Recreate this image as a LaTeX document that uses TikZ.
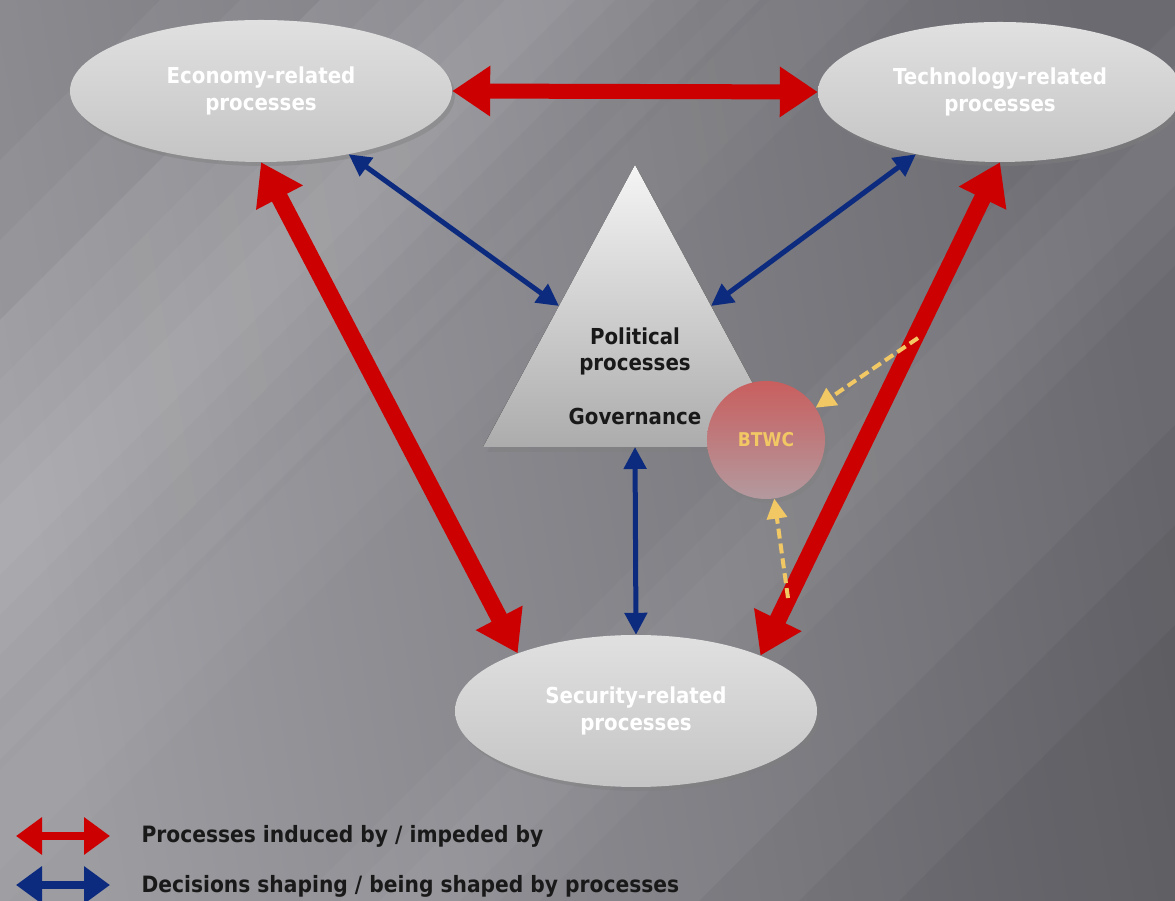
\documentclass[tikz,border=0pt]{standalone}
\usepackage{fontspec}
\setmainfont{DejaVu Sans}
\newfontfamily\nodefont[FakeStretch=0.9]{DejaVu Sans}
\usetikzlibrary{arrows.meta,shadows,calc,shapes.geometric}
\definecolor{redA}{HTML}{CC0000}
\definecolor{blueA}{HTML}{0C2A7E}
\definecolor{yelA}{HTML}{F2C865}
\definecolor{bgL}{HTML}{9C9CA1}
\definecolor{bgR}{HTML}{6A6A70}
\definecolor{circT}{HTML}{C95E5E}
\definecolor{circB}{HTML}{B39A9F}
\newcommand\mydiagband[4]{% center c (y-down), half width, colour, opacity
  \fill[#3, opacity=#4] (-1000,{-1000+901-#1-#2}) -- (2300,{2300+901-#1-#2}) -- (2300,{2300+901-#1+#2}) -- (-1000,{-1000+901-#1+#2}) -- cycle;}
\tikzset{
  proc/.style={ellipse, inner sep=0pt, top color=gray!24!white, bottom color=gray!46!white,
    drop shadow={shadow xshift=3pt, shadow yshift=-4pt, opacity=0.45},
    text=white, align=center, font=\nodefont\bfseries\fontsize{22}{27}\selectfont},
  tritext/.style={text=black!90, align=center, font=\nodefont\bfseries\fontsize{22}{26}\selectfont},
  redarrow/.style={draw=redA, line width=17pt, {Triangle[width=50pt,length=40pt]}-{Triangle[width=50pt,length=40pt]}},
  bluearrow/.style={draw=blueA, line width=5pt, {Triangle[width=22pt,length=22pt]}-{Triangle[width=22pt,length=22pt]}},
  yelarrow/.style={draw=yelA, line width=4pt, dash pattern=on 10pt off 5pt, -{Triangle[width=20pt,length=20pt]}},
  legarrow/.style={line width=8pt, {Triangle[width=36pt,length=26pt]}-{Triangle[width=36pt,length=26pt]}},
  legtext/.style={anchor=west, text=black!90, font=\nodefont\bfseries\fontsize{22.5}{27}\selectfont},
}
\begin{document}
\begin{tikzpicture}[x=1pt,y=1pt]
\useasboundingbox (0,0) rectangle (1175,901);
% background
\begin{scope}
\clip (0,0) rectangle (1175,901);
\shade[left color=bgL, right color=bgR, shading angle=100] (0,0) rectangle (1175,901);
\foreach \w in {220,160,115,75,35} {\mydiagband{540}{\w}{white}{0.04}}
\foreach \w in {120,80,40} {\mydiagband{1320}{\w}{white}{0.03}}
\foreach \w in {90,50} {\mydiagband{820}{\w}{white}{0.025}}
\foreach \w in {260,180,100} {\mydiagband{60}{\w}{black}{0.03}}
\foreach \w in {400,300,200} {\mydiagband{2000}{\w}{black}{0.04}}
\end{scope}

% nodes
\node[proc, minimum width=382pt, minimum height=142pt] (econ) at (261,810) {Economy-related\\processes};
\node[proc, minimum width=364pt, minimum height=140pt] (tech) at (1000,809) {Technology-related\\processes};
\node[proc, minimum width=362pt, minimum height=152pt] (sec) at (636,190) {Security-related\\processes};

\coordinate (tA) at (635,736);
\coordinate (tL) at (483,454);
\coordinate (tR) at (787,454);
\fill[top color=gray!8!white, bottom color=gray!65!white,
  drop shadow={shadow xshift=4pt, shadow yshift=-5pt, opacity=0.45}] (tA) -- (tL) -- (tR) -- cycle;
\node[tritext] (pol) at (635,550) {Political\\processes};
\node[tritext] (gov) at (635,484) {Governance};

\node[circle, minimum size=118pt, inner sep=0pt, top color=circT, bottom color=circB,
  drop shadow={shadow xshift=3pt, shadow yshift=-4pt, opacity=0.45},
  text=yelA, font=\nodefont\bfseries\fontsize{19}{22}\selectfont] (btwc) at (766,461) {BTWC};

% red arrows
\draw[redarrow, line width=15pt, {Triangle[width=48pt,length=38pt]}-{Triangle[width=48pt,length=38pt]}] (econ.east) -- (tech.west);
\draw[redarrow] (econ.south) -- (sec.154.6);
\draw[redarrow] (tech.south) -- (sec.24);

% blue arrows
\coordinate (tLm) at ($(tA)!0.5!(tL)$);
\coordinate (tRm) at ($(tA)!0.5!(tR)$);
\coordinate (tB) at ($(tL)!0.5!(tR)$);
\draw[bluearrow] (econ) -- (tLm);
\draw[bluearrow] (tech) -- (tRm);
\draw[bluearrow] (tB) -- (sec.north);

% yellow dashed
\coordinate (y1) at (918,563);
\coordinate (y2) at (788,303);
\draw[yelarrow] (y1) -- (btwc.33.9);
\draw[yelarrow] (y2) -- (btwc.-82);

% legend
\coordinate (lr1) at (16,65);
\coordinate (lr2) at (110,65);
\coordinate (lb1) at (16,16);
\coordinate (lb2) at (110,16);
\draw[legarrow, draw=redA] (lr1) -- (lr2);
\draw[legarrow, draw=blueA] (lb1) -- (lb2);
\node[legtext] (leg1) at (138,65) {Processes induced by / impeded by};
\node[legtext] (leg2) at (138,15) {Decisions shaping / being shaped by processes};
\end{tikzpicture}
\end{document}
